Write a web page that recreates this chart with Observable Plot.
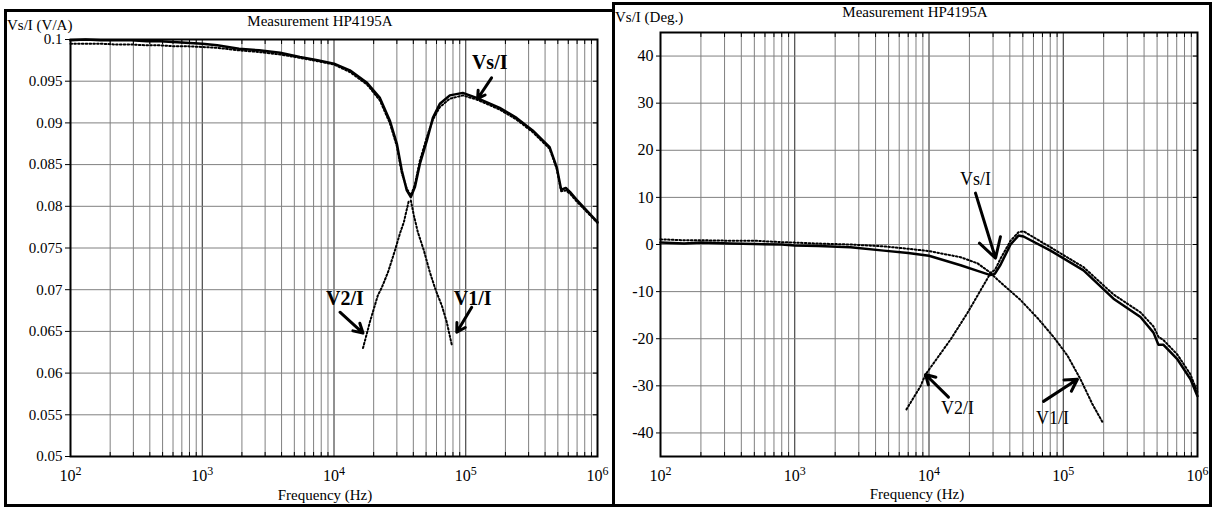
<!DOCTYPE html>
<html><head><meta charset="utf-8">
<script src="https://cdn.jsdelivr.net/npm/d3@7"></script>
<script src="https://cdn.jsdelivr.net/npm/@observablehq/plot@0.6"></script>
<style>
body{margin:0;background:#fff;width:1213px;height:507px;position:relative;overflow:hidden;font-family:"Liberation Serif","Times New Roman",serif;}
.box{position:absolute;border:3px solid #000;box-sizing:border-box;}
.lbl{position:absolute;white-space:nowrap;color:#000;font-size:15px;line-height:1;}
.c{transform:translateX(-50%);}
svg{position:absolute;}
</style></head><body>
<div class="box" style="left:4px;top:9px;width:611px;height:498px"></div>
<div class="box" style="left:612px;top:2px;width:600px;height:505px"></div>
<div class="lbl" style="left:7px;top:18px">Vs/I (V/A)</div>
<div class="lbl c" style="left:320px;top:14px">Measurement HP4195A</div>
<div class="lbl c" style="left:325px;top:488px">Frequency (Hz)</div>
<div class="lbl" style="left:615px;top:10px">Vs/I (Deg.)</div>
<div class="lbl c" style="left:915px;top:5px">Measurement HP4195A</div>
<div class="lbl c" style="left:917px;top:487px">Frequency (Hz)</div>
<script>
// ---------- Left panel: magnitude |Vs/I| (V/A) ----------
const magFreq = [100,130,170,220,290,380,480,600,750,1000,1300,1900,2700,3900,5500,7500,10000,13200,17800,22300,26500,30000,32700,35700,38300,41100,44900,50700,56300,63600,75700,94900,121000,181000,243000,322000,433000,490000,530000,575000,620000,693000,1000000];
const magVs = [0.0999,0.1000,0.0999,0.0999,0.0999,0.0998,0.0998,0.0997,0.0996,0.0995,0.0993,0.0989,0.0987,0.0984,0.0979,0.0975,0.0971,0.0963,0.0948,0.0930,0.0903,0.0875,0.0843,0.0819,0.0811,0.0823,0.0851,0.0879,0.0906,0.0923,0.0933,0.0936,0.0930,0.0918,0.0906,0.0891,0.0871,0.0847,0.0820,0.0822,0.0817,0.0808,0.0781];
const magSim = [0.0995,0.0995,0.0995,0.0994,0.0994,0.0993,0.0993,0.0992,0.0992,0.0991,0.0990,0.0987,0.0985,0.0982,0.0978,0.0974,0.0970,0.0961,0.0946,0.0927,0.0900,0.0872,0.0840,0.0821,0.0813,0.0826,0.0855,0.0883,0.0904,0.0919,0.0929,0.0933,0.0928,0.0916,0.0904,0.0889,0.0869,0.0845,0.0818,0.0819,0.0815,0.0806,0.0780];
const magV2Freq = [16600,18700,21500,23100,25700,29000,31600,33900,37000];
const magV2 = [0.0630,0.0661,0.0693,0.0703,0.0721,0.0747,0.0767,0.0781,0.0807];
const magV1Freq = [38300,40400,43300,48100,53400,59300,65800,71800,78300];
const magV1 = [0.0807,0.0789,0.0769,0.0747,0.0721,0.0699,0.0681,0.0661,0.0634];
const magTicks = [0.05,0.055,0.06,0.065,0.07,0.075,0.08,0.085,0.09,0.095,0.1];
const magLabels = [{t:"Vs/I",f:152000,v:0.0972},{t:"V2/I",f:12100,v:0.0689},{t:"V1/I",f:113000,v:0.0689}];
const magArrows = [{f1:157000,v1:0.0954,f2:123000,v2:0.0929},{f1:11100,v1:0.0673,f2:16600,v2:0.0648},{f1:111000,v1:0.0679,f2:85500,v2:0.0649}];

// ---------- Right panel: phase Vs/I (deg) ----------
const phFreq = [100,150,200,330,500,800,1000,1500,2600,4600,7000,10000,17200,23000,28700,31000,34100,40500,46400,50600,80400,141600,236600,376000,470000,512000,558000,710000,887000,1000000];
const phVs = [0.4,0.2,0.4,0.2,0.1,0.0,-0.2,-0.3,-0.6,-1.3,-1.8,-2.4,-4.4,-5.6,-6.5,-6.2,-4.3,0.0,1.9,1.7,-1.3,-5.5,-11.5,-15.4,-18.7,-21.3,-21.3,-24.4,-28.6,-32.2];
const phSim = [1.1,0.9,0.9,0.8,0.8,0.5,0.4,0.2,0.0,-0.4,-0.9,-1.4,-2.7,-4.0,-6.0,-5.4,-3.0,0.8,2.6,2.8,-0.6,-4.8,-10.6,-14.4,-17.4,-19.6,-20.3,-23.4,-27.6,-31.4];
const phV2Freq = [6790,8640,9420,14450,19360,28700];
const phV2 = [-35,-30.1,-27.6,-20.2,-14.5,-6.1];
const phV1Freq = [28700,35900,48100,64300,84600,107600,134400,165000,196000];
const phV1 = [-6.1,-8.6,-11.8,-15.6,-19.6,-23.6,-28.6,-33.9,-37.7];
const phTicks = [-40,-30,-20,-10,0,10,20,30,40];
const phLabels = [{t:"Vs/I",f:22200,v:13.9},{t:"V2/I",f:16300,v:-34.7},{t:"V1/I",f:83200,v:-36.8}];
const phArrows = [{f1:22200,v1:10.9,f2:31300,v2:-2.9},{f1:13960,v1:-32.4,f2:9420,v2:-27.6},{f1:71300,v1:-33.3,f2:127600,v2:-28.6}];

// ---------- Frequency axis ticks ----------
const decades = [100,1000,10000,100000,1000000];
const minorX = [];
for (const d of decades.slice(0,4)) for (let k = 2; k <= 9; k++) minorX.push(d*k);

const FONT = '"Liberation Serif","Times New Roman",serif';
const zip = (fs, vs) => fs.map((f,i) => ({f, v: vs[i]}));
const DOT = {stroke: "#000", strokeWidth: 2, strokeDasharray: "1.6,2.2"};

function panel(cfg) {
  const svg = Plot.plot({
    width: cfg.width, height: cfg.height,
    marginLeft: cfg.ml, marginTop: cfg.mt, marginRight: cfg.mr, marginBottom: cfg.mb,
    style: {fontFamily: FONT, fontSize: "16px", background: "transparent", color: "#000", overflow: "visible"},
    x: {type: "log", domain: [100, 1e6]},
    y: {domain: cfg.yDomain},
    marks: [
      Plot.ruleX(minorX, {stroke: "#808080", strokeWidth: 1}),
      Plot.ruleX(decades, {stroke: "#222", strokeWidth: 1}),
      Plot.ruleY(cfg.yTicks, {stroke: "#808080", strokeWidth: 1}),
      Plot.axisY({ticks: cfg.yTicks, tickSize: cfg.ytick, tickPadding: 3, tickFormat: cfg.yFmt, label: null, fontSize: cfg.yFont}),
      Plot.axisY({anchor: "right", ticks: cfg.yTicks, tickSize: -5, tickFormat: () => "", label: null}),
      Plot.axisX({anchor: "top", ticks: minorX, tickSize: -4, tickFormat: () => "", label: null}),
      Plot.axisX({anchor: "bottom", ticks: minorX, tickSize: -4, tickFormat: () => "", label: null}),
      Plot.axisX({anchor: "bottom", ticks: decades, tickSize: 0, tickPadding: 13, tickFormat: d => "10^" + Math.round(Math.log10(d)), label: null, fontSize: 16}),
      Plot.frame({stroke: "#000", strokeWidth: 2}),
      Plot.line(zip(cfg.f, cfg.sim), {x: "f", y: "v", ...DOT}),
      Plot.line(zip(cfg.v2f, cfg.v2), {x: "f", y: "v", ...DOT}),
      Plot.line(zip(cfg.v1f, cfg.v1), {x: "f", y: "v", ...DOT}),
      Plot.line(zip(cfg.f, cfg.vs), {x: "f", y: "v", stroke: "#000", strokeWidth: 2.5}),
      Plot.arrow(cfg.arrows, {x1: "f1", y1: "v1", x2: "f2", y2: "v2", stroke: "#000", strokeWidth: 3, headLength: 11}),
      Plot.text(cfg.labels, {x: "f", y: "v", text: "t", fontSize: cfg.annFont, fontWeight: cfg.annWeight, fontFamily: FONT, fill: "#000"})
    ]
  });
  svg.style.left = cfg.left + "px";
  svg.style.top = cfg.top + "px";
  // superscript exponents on the decade labels
  const ns = "http://www.w3.org/2000/svg";
  svg.querySelectorAll('g[aria-label="x-axis tick label"] text').forEach(t => {
    const s = t.textContent;
    if (!s.includes("^")) return;
    const [b, e] = s.split("^");
    t.textContent = "";
    const t1 = document.createElementNS(ns, "tspan"); t1.textContent = b;
    const t2 = document.createElementNS(ns, "tspan"); t2.textContent = e;
    t2.setAttribute("dy", "-0.45em"); t2.setAttribute("font-size", "12px");
    t.append(t1, t2);
  });
  document.body.appendChild(svg);
}

panel({
  left: 7, top: 12, width: 604, height: 492, ml: 63, mt: 27, mr: 14, mb: 48,
  yDomain: [0.05, 0.1], yTicks: magTicks, yFmt: d => String(+d.toFixed(3)), ytick: 5, yFont: 15,
  f: magFreq, vs: magVs, sim: magSim, v2f: magV2Freq, v2: magV2, v1f: magV1Freq, v1: magV1,
  labels: magLabels, arrows: magArrows, annFont: 20, annWeight: "bold"
});
panel({
  left: 615, top: 5, width: 594, height: 499, ml: 45, mt: 27, mr: 12, mb: 48,
  yDomain: [-45, 45], yTicks: phTicks, yFmt: d => String(d), ytick: 4, yFont: 16,
  f: phFreq, vs: phVs, sim: phSim, v2f: phV2Freq, v2: phV2, v1f: phV1Freq, v1: phV1,
  labels: phLabels, arrows: phArrows, annFont: 18, annWeight: "normal"
});
</script>
</body></html>
